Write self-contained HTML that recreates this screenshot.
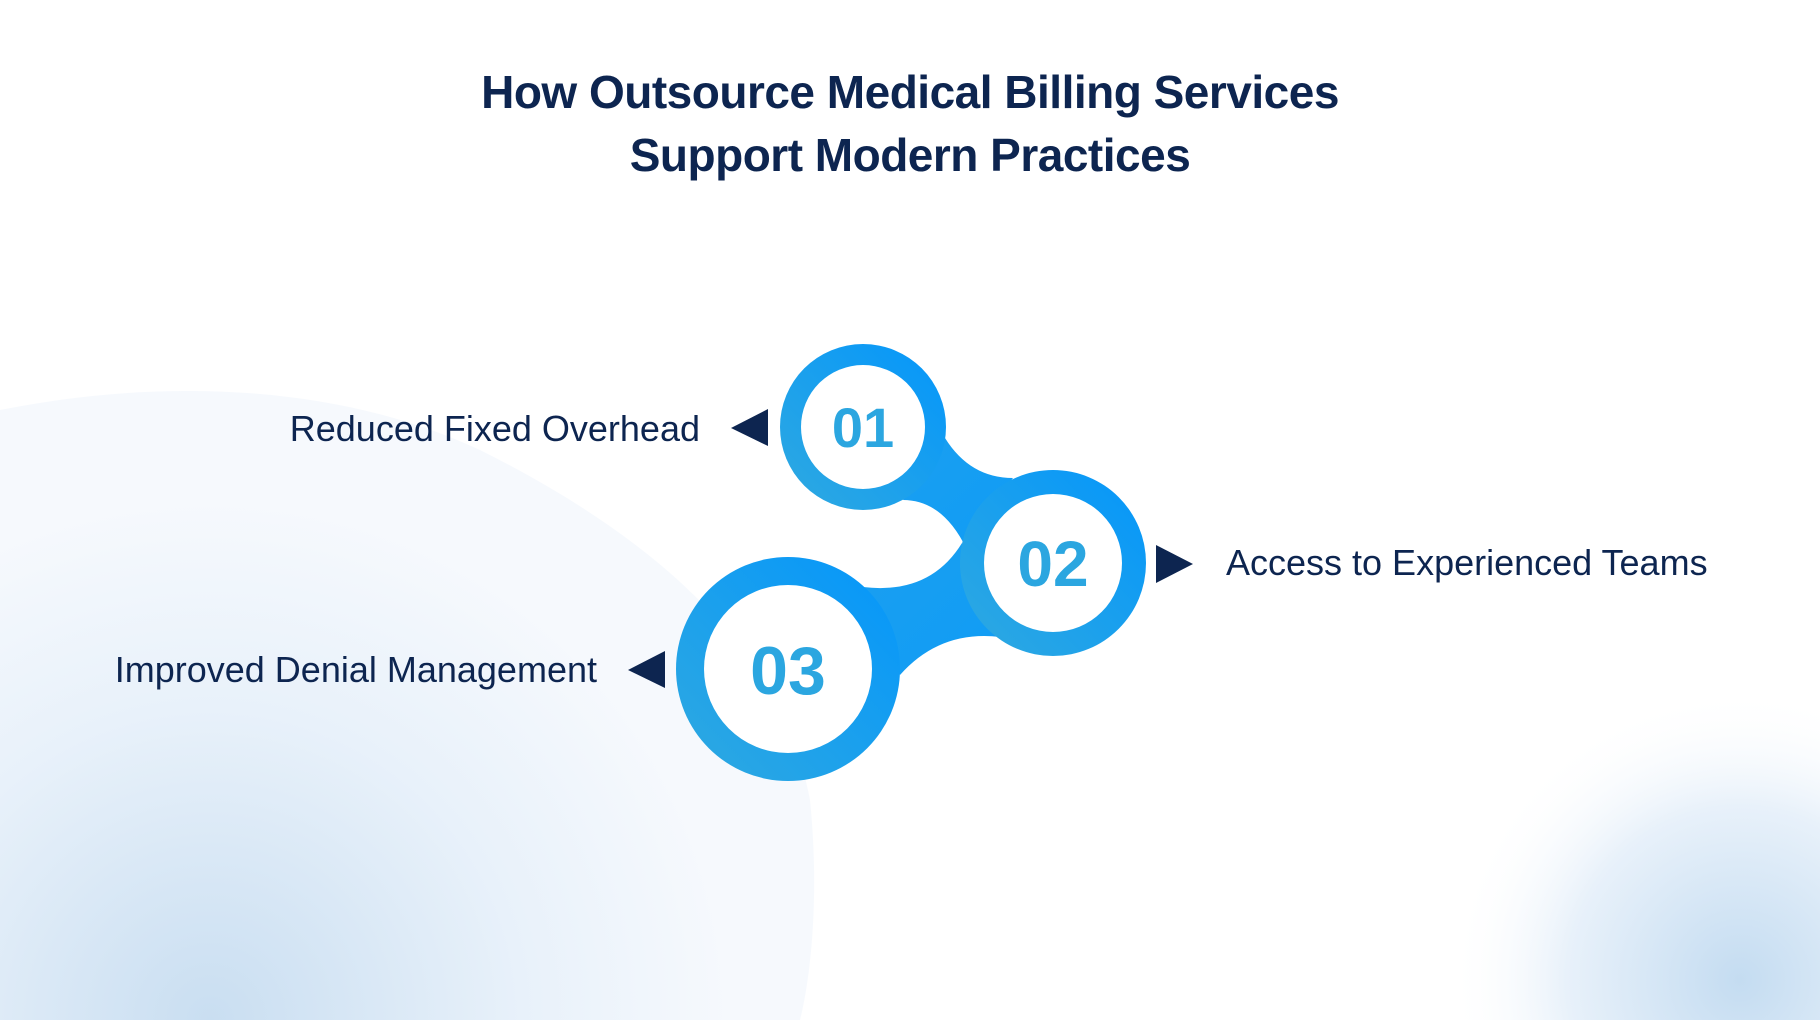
<!DOCTYPE html>
<html><head><meta charset="utf-8"><style>
html,body{margin:0;padding:0}
body{width:1820px;height:1020px;position:relative;overflow:hidden;background:#fff;font-family:"Liberation Sans",sans-serif}
.t{position:absolute;left:0;width:1820px;text-align:center;color:#0d2550;font-weight:bold;font-size:46px;letter-spacing:-0.5px}
.l{position:absolute;color:#0d2550;font-size:36px;white-space:nowrap}
</style></head><body>
<svg width="1820" height="1020" style="position:absolute;left:0;top:0">
<defs>
<radialGradient id="bl" cx="210" cy="1020" r="520" gradientUnits="userSpaceOnUse">
<stop offset="0" stop-color="#c9def1"/><stop offset="0.6" stop-color="#e8f1fa"/><stop offset="1" stop-color="#f6f9fd"/></radialGradient>
<radialGradient id="br" cx="1740" cy="980" r="290" gradientUnits="userSpaceOnUse">
<stop offset="0" stop-color="#c4dcf1"/><stop offset="0.6" stop-color="#e8f1fa"/><stop offset="1" stop-color="#fff" stop-opacity="0"/></radialGradient>
<linearGradient id="ring" x1="0" y1="1" x2="1" y2="0">
<stop offset="0" stop-color="#2fa9e0"/><stop offset="1" stop-color="#0496fb"/></linearGradient>
<linearGradient id="con" x1="0" y1="0" x2="1" y2="1">
<stop offset="0" stop-color="#1a9ff0"/><stop offset="1" stop-color="#109cf5"/></linearGradient>
</defs>
<path d="M0,410 C150,380 330,380 480,450 C640,530 780,640 810,800 C820,900 810,980 800,1020 L0,1020 Z" fill="url(#bl)"/>
<rect x="1420" y="680" width="400" height="340" fill="url(#br)"/>
<path d="M945,438 Q970,478 1013,478 L963,542 Q940,500 903,500 Z" fill="url(#con)"/>
<path d="M863,587 Q930,595 962,543 L1000,637 Q940,630 900,675 Z" fill="url(#con)"/>
<circle cx="863" cy="427" r="83" fill="url(#ring)"/><circle cx="863" cy="427" r="62" fill="#fff"/>
<circle cx="1053" cy="563" r="93" fill="url(#ring)"/><circle cx="1053" cy="563" r="69" fill="#fff"/>
<circle cx="788" cy="669" r="112" fill="url(#ring)"/><circle cx="788" cy="669" r="84" fill="#fff"/>
<polygon points="731,428 768,409 768,446" fill="#0d2550"/>
<polygon points="1193,564 1156,545 1156,583" fill="#0d2550"/>
<polygon points="628,670 665,651 665,688" fill="#0d2550"/>
<text x="863" y="447" text-anchor="middle" font-family="Liberation Sans" font-weight="bold" font-size="56" fill="#2ba6e0">01</text>
<text x="1053" y="586" text-anchor="middle" font-family="Liberation Sans" font-weight="bold" font-size="64" fill="#2ba6e0">02</text>
<text x="788" y="694" text-anchor="middle" font-family="Liberation Sans" font-weight="bold" font-size="68" fill="#2ba6e0">03</text>
</svg>
<div class="t" style="top:65px">How Outsource Medical Billing Services</div>
<div class="t" style="top:128px">Support Modern Practices</div>
<div class="l" style="right:1120px;top:408px">Reduced Fixed Overhead</div>
<div class="l" style="left:1226px;top:542px">Access to Experienced Teams</div>
<div class="l" style="right:1223px;top:649px">Improved Denial Management</div>
</body></html>
